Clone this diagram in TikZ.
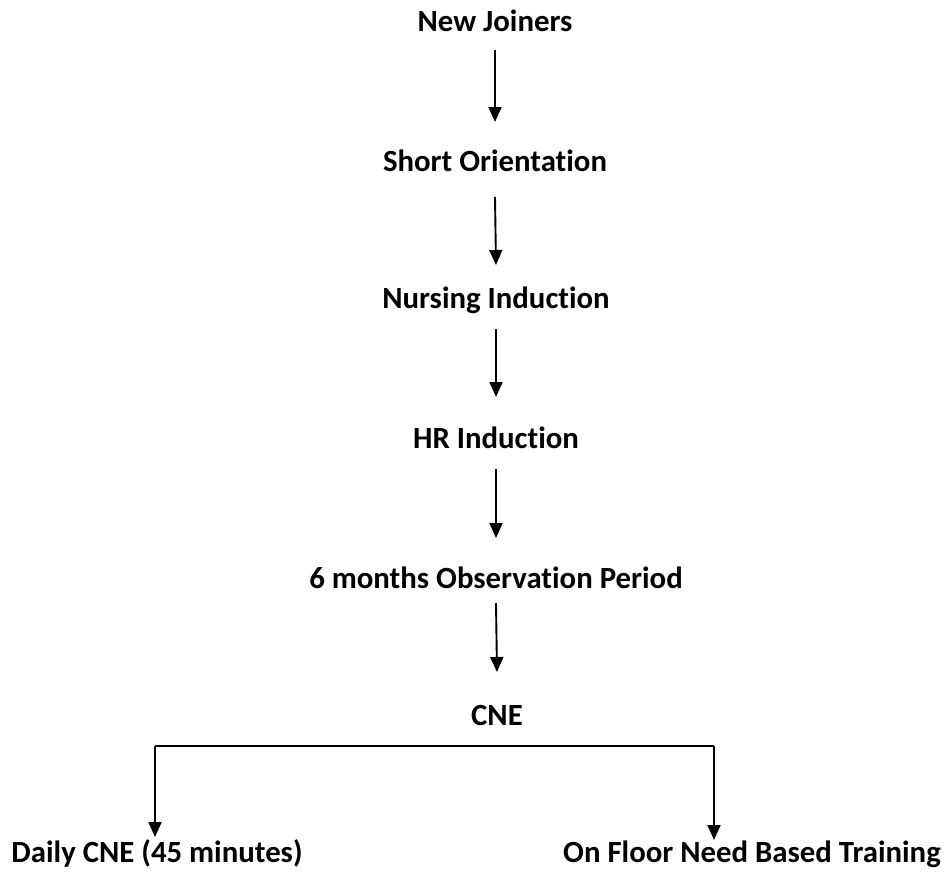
\documentclass[tikz,border=0pt]{standalone}
\usepackage{fontspec}
\setmainfont{Carlito}[Ligatures=NoCommon]
\usetikzlibrary{arrows.meta}
\begin{document}
\begin{tikzpicture}[x=1pt,y=-1pt,
  lbl/.style={anchor=base,inner sep=0pt,font=\fontsize{30.8}{36}\selectfont\bfseries},
  arr/.style={line width=1.9pt,-{Triangle[width=13pt,length=15pt]}},
  ln/.style={line width=1.9pt}]
\useasboundingbox (0,0) rectangle (950,875);
\node[lbl] (n1) at (495,32) {New Joiners};
\node[lbl] (n2) at (495,171) {Short Orientation};
\node[lbl] (n3) at (496,308) {Nursing Induction};
\node[lbl] (n4) at (496,448) {HR Induction};
\node[lbl] (n5) at (496,588) {6 months Observation Period};
\node[lbl] (n6) at (497,725) {CNE};
\node[lbl] (d1) at (157,862) {Daily CNE (45 minutes)};
\node[lbl] (d2) at (752,862) {On Floor Need Based Training};
\draw[arr] ([yshift=-18pt]n1.base) -- ([yshift=49pt]n2.base);
\draw[arr] ([yshift=-26pt]n2.base) -- ([yshift=43pt]n3.base);
\draw[arr] ([yshift=-21pt]n3.base) -- ([yshift=51pt]n4.base);
\draw[arr] ([yshift=-21pt]n4.base) -- ([yshift=50pt]n5.base);
\draw[arr] ([yshift=-15pt]n5.base) -- ([yshift=53pt]n6.base);
\coordinate (bl) at (155,746);
\coordinate (br) at (714,746);
\coordinate (tl) at (155,837);
\coordinate (tr) at (714,840);
\draw[ln] (bl) -- (br);
\draw[arr] (bl) -- (tl);
\draw[arr] (br) -- (tr);
\end{tikzpicture}
\end{document}
